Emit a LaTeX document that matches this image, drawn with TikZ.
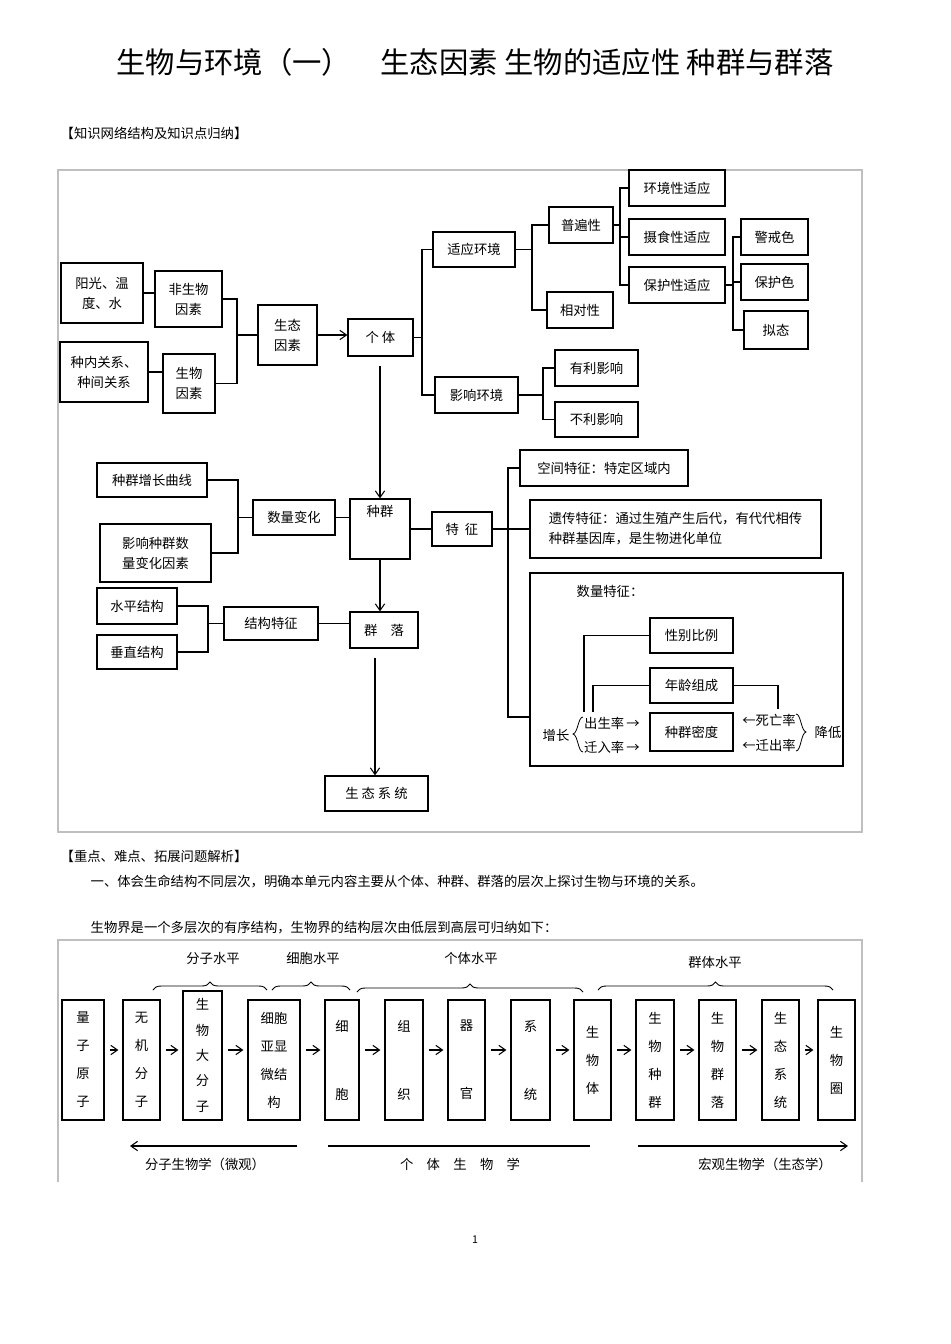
\documentclass[tikz,border=0pt]{standalone}
\usepackage{fontspec}
\setmainfont{Noto Sans CJK SC}
\usetikzlibrary{arrows.meta,decorations.pathreplacing}
\newcommand\bx[7][]{\node[bx,#1,minimum width={(#5-#3)*0.75pt},minimum height={(#6-#4)*0.75pt}] (#2) at ({(#3+#5)/2},{(#4+#6)/2}) {#7};}
\tikzset{bx/.style={draw,line width=0.9pt,inner sep=0pt,align=center,font=\fontsize{10}{15}\selectfont},
 ln/.style={line width=0.8pt},
 ar/.style={line width=0.8pt,-{Straight Barb[length=5pt,width=7pt]}},
 sm/.style={font=\fontsize{10}{12}\selectfont},
 br/.style={decorate,decoration={brace,amplitude=6pt},line width=0.7pt}}
\begin{document}
\begin{tikzpicture}[x=0.75pt,y=-0.75pt]
\useasboundingbox (0,0) rectangle (950,1344);
\node[font=\fontsize{22}{26}\selectfont] (title) at (475,62) {生物与环境（一）\quad 生态因素\ 生物的适应性\ 种群与群落};
\node[anchor=west,font=\fontsize{10}{12}\selectfont] (h1) at (56,133) {【知识网络结构及知识点归纳】};
\draw[gray!50,line width=0.8pt] (58,170) rectangle (862,832);
% top
\bx{ygw}{61}{263}{143}{323}{阳光、温\\度、水}
\bx{fsw}{155}{271}{222}{327}{非生物\\因素}
\bx{znr}{60}{342}{148}{402}{种内关系、\\种间关系}
\bx{swy}{163}{354}{215}{413}{生物\\因素}
\bx{styz}{258}{305}{317}{365}{生态\\因素}
\bx{gt}{348}{319}{413}{356}{个\ 体}
\bx{syhj}{433}{232}{515}{267}{适应环境}
\bx{yxhj}{435}{377}{518}{413}{影响环境}
\bx{pbx}{549}{207}{613}{243}{普遍性}
\bx{xdx}{547}{292}{613}{328}{相对性}
\bx{hjx}{629}{170}{725}{206}{环境性适应}
\bx{ssx}{629}{219}{725}{255}{摄食性适应}
\bx{bhx}{629}{267}{725}{303}{保护性适应}
\bx{jjs}{741}{219}{808}{255}{警戒色}
\bx{bhs}{741}{264}{808}{300}{保护色}
\bx{nt}{744}{311}{808}{349}{拟态}
\bx{ylyx}{555}{350}{638}{386}{有利影响}
\bx{blyx}{555}{402}{638}{437}{不利影响}
\coordinate (v1) at (237,0);
\draw[ln] (ygw.east) -- (fsw.west|-ygw.east);
\draw[ln] (znr.east) -- (swy.west|-znr.east);
\draw[ln] (fsw.east) -- (v1|-fsw.east) -- (v1|-swy.east) -- (swy.east);
\draw[ln] (v1|-styz.west) -- (styz.west);
\draw[ar] (styz.east) -- (gt.west|-styz.east);
\coordinate (v2) at (422,0);
\draw[ln] (gt.east) -- (v2|-gt.east);
\draw[ln] (syhj.west) -- (v2|-syhj.west) -- (v2|-yxhj.west) -- (yxhj.west);
\coordinate (v3) at (532,0);
\draw[ln] (syhj.east) -- (v3|-syhj.east);
\draw[ln] (pbx.west) -- (v3|-pbx.west) -- (v3|-xdx.west) -- (xdx.west);
\coordinate (v4) at (620,0);
\draw[ln] (pbx.east) -- (v4|-pbx.east);
\draw[ln] (hjx.west) -- (v4|-hjx.west) -- (v4|-bhx.west) -- (bhx.west);
\draw[ln] (v4|-ssx.west) -- (ssx.west);
\coordinate (v5) at (733,0);
\draw[ln] (bhx.east) -- (v5|-bhx.east);
\draw[ln] (v5|-bhs.west) -- (bhs.west);
\draw[ln] (jjs.west) -- (v5|-jjs.west) -- (v5|-nt.west) -- (nt.west);
\coordinate (v6) at (543,0);
\draw[ln] (yxhj.east) -- (v6|-yxhj.east);
\draw[ln] (ylyx.west) -- (v6|-ylyx.west) -- (v6|-blyx.west) -- (blyx.west);
% middle
\bx{zqzc}{97}{463}{207}{497}{种群增长曲线}
\bx{yxzq}{100}{524}{211}{582}{影响种群数\\量变化因素}
\bx{slbh}{253}{500}{335}{535}{数量变化}
\bx{zq}{350}{499}{410}{559}{种群\\[12pt]}
\bx{tz}{432}{512}{492}{546}{特\ \ 征}
\bx{kjtz}{520}{450}{688}{486}{空间特征：特定区域内}
\bx[align=left]{yctz}{530}{500}{821}{558}{遗传特征：通过生殖产生后代，有代代相传\\种群基因库，是生物进化单位}
\draw[line width=1pt] (530,573) rectangle (843,766);
\node[sm] (sltz) at (610,591) {数量特征：};
\bx{xbbl}{650}{618}{733}{653}{性别比例}
\bx{nlzc}{650}{668}{733}{703}{年龄组成}
\bx{zqmd}{650}{713}{733}{751}{种群密度}
\node[sm] (zz) at (556,735) {增长};
\node[sm] (csl) at (612,723) {出生率\,→};
\node[sm] (qrl) at (612,747) {迁入率\,→};
\node[sm] (swl) at (769,720) {←死亡率};
\node[sm] (qcl) at (769,745) {←迁出率};
\node[sm] (jd) at (828,732) {降低};
\draw[line width=0.6pt] (583,717) .. controls (578,717) and (578,733) .. (573,734) .. controls (578,735) and (578,752) .. (583,752);
\draw[line width=0.6pt] (796,714) .. controls (801,714) and (801,731) .. (806,732) .. controls (801,733) and (801,751) .. (796,751);
\coordinate (v7) at (584,0);
\coordinate (v8) at (593,0);
\coordinate (v9) at (778,0);
\draw[ln] (xbbl.west) -- (v7|-xbbl.west) -- (v7|-csl.north);
\draw[ln] (nlzc.west) -- (v8|-nlzc.west) -- (v8|-csl.north);
\draw[ln] (nlzc.east) -- (v9|-nlzc.east) -- (v9|-swl.north);
\coordinate (v10) at (238,0);
\draw[ln] (zqzc.east) -- (v10|-zqzc.east) -- (v10|-yxzq.east) -- (yxzq.east);
\draw[ln] (v10|-slbh.west) -- (slbh.west);
\draw[ln] (slbh.east) -- (zq.west|-slbh.east);
\draw[ln] (zq.east|-tz.west) -- (tz.west);
\coordinate (v11) at (508,0);
\coordinate (v12) at (530,717);
\draw[ln] (tz.east) -- (v11|-tz.east);
\draw[ln] (kjtz.west) -- (v11|-kjtz.west) -- (v11|-v12) -- (v12);
\draw[ln] (v11|-yctz.west) -- (yctz.west);
\bx{spjg}{97}{588}{177}{624}{水平结构}
\bx{czjg}{97}{635}{177}{669}{垂直结构}
\bx{jgtz}{224}{607}{318}{640}{结构特征}
\bx{ql}{350}{612}{418}{648}{群\quad 落}
\bx{stxt}{325}{776}{428}{811}{生\ 态\ 系\ 统}
\coordinate (v13) at (208,0);
\draw[ln] (spjg.east) -- (v13|-spjg.east) -- (v13|-czjg.east) -- (czjg.east);
\draw[ln] (v13|-jgtz.west) -- (jgtz.west);
\draw[ln] (jgtz.east) -- (ql.west|-jgtz.east);
\coordinate (a1) at (380,366);
\coordinate (a2) at (375,658);
\draw[ar] (a1) -- (zq.north-|a1);
\draw[ar] (zq.south-|a1) -- (ql.north-|a1);
\draw[ar] (a2) -- (stxt.north-|a2);
% text
\node[anchor=west,font=\fontsize{10}{12}\selectfont] (h2) at (56,856) {【重点、难点、拓展问题解析】};
\node[anchor=west,font=\fontsize{10}{12}\selectfont] (p1) at (86,882) {一、体会生命结构不同层次，明确本单元内容主要从个体、种群、群落的层次上探讨生物与环境的关系。};
\node[anchor=west,font=\fontsize{10}{12}\selectfont] (p2) at (86,928) {生物界是一个多层次的有序结构，生物界的结构层次由低层到高层可归纳如下：};
% bottom
\draw[gray!50,line width=0.8pt] (58,1182) -- (58,940) -- (862,940) -- (862,1182);
\tikzset{vb/.style={bx,font=\fontsize{10}{21}\selectfont}}
\bx[vb]{b1}{62}{1000}{104}{1120}{量\\子\\原\\子}
\bx[vb]{b2}{123}{1000}{160}{1120}{无\\机\\分\\子}
\bx[vb,font=\fontsize{10}{19}\selectfont]{b3}{183}{991}{222}{1120}{生\\物\\大\\分\\子}
\bx[vb]{b4}{248}{1000}{300}{1120}{细胞\\亚显\\微结\\构}
\bx[vb]{b5}{325}{1000}{359}{1120}{细\\[30pt]胞}
\bx[vb]{b6}{385}{1000}{423}{1120}{组\\[30pt]织}
\bx[vb]{b7}{448}{1000}{485}{1120}{器\\[30pt]官}
\bx[vb]{b8}{511}{1000}{550}{1120}{系\\[30pt]统}
\bx[vb]{b9}{574}{1000}{611}{1120}{生\\物\\体}
\bx[vb]{b10}{636}{1000}{674}{1120}{生\\物\\种\\群}
\bx[vb]{b11}{699}{1000}{736}{1120}{生\\物\\群\\落}
\bx[vb]{b12}{762}{1000}{799}{1120}{生\\态\\系\\统}
\bx[vb]{b13}{818}{1000}{855}{1120}{生\\物\\圈}
\foreach \a/\b in {b1/b2,b2/b3,b3/b4,b4/b5,b5/b6,b6/b7,b7/b8,b8/b9,b9/b10,b10/b11,b11/b12,b12/b13}
  \draw[ar,shorten <=4pt,shorten >=3pt] (\a.east|-0,1050) -- (\b.west|-0,1050);
\draw[br] (153,990) -- (267,990);
\draw[br] (272,990) -- (350,990);
\draw[br] (357,992) -- (583,992);
\draw[br] (598,990) -- (833,990);
\node[sm] (l1) at (213,958) {分子水平};
\node[sm] (l2) at (313,958) {细胞水平};
\node[sm] (l3) at (471,958) {个体水平};
\node[sm] (l4) at (715,962) {群体水平};
\coordinate (c1) at (297,1146); \coordinate (c2) at (130,1146);
\coordinate (c3) at (328,1146); \coordinate (c4) at (590,1146);
\coordinate (c5) at (638,1146); \coordinate (c6) at (848,1146);
\draw[ar] (c1) -- (c2);
\draw[ln] (c3) -- (c4);
\draw[ar] (c5) -- (c6);
\node[sm] (m1) at (205,1164) {分子生物学（微观）};
\node[sm] (m2) at (460,1164) {个\quad 体\quad 生\quad 物\quad 学};
\node[sm] (m3) at (765,1164) {宏观生物学（生态学）};
\node[font=\fontsize{8}{10}\selectfont] (pg) at (475,1240) {1};
\end{tikzpicture}
\end{document}
